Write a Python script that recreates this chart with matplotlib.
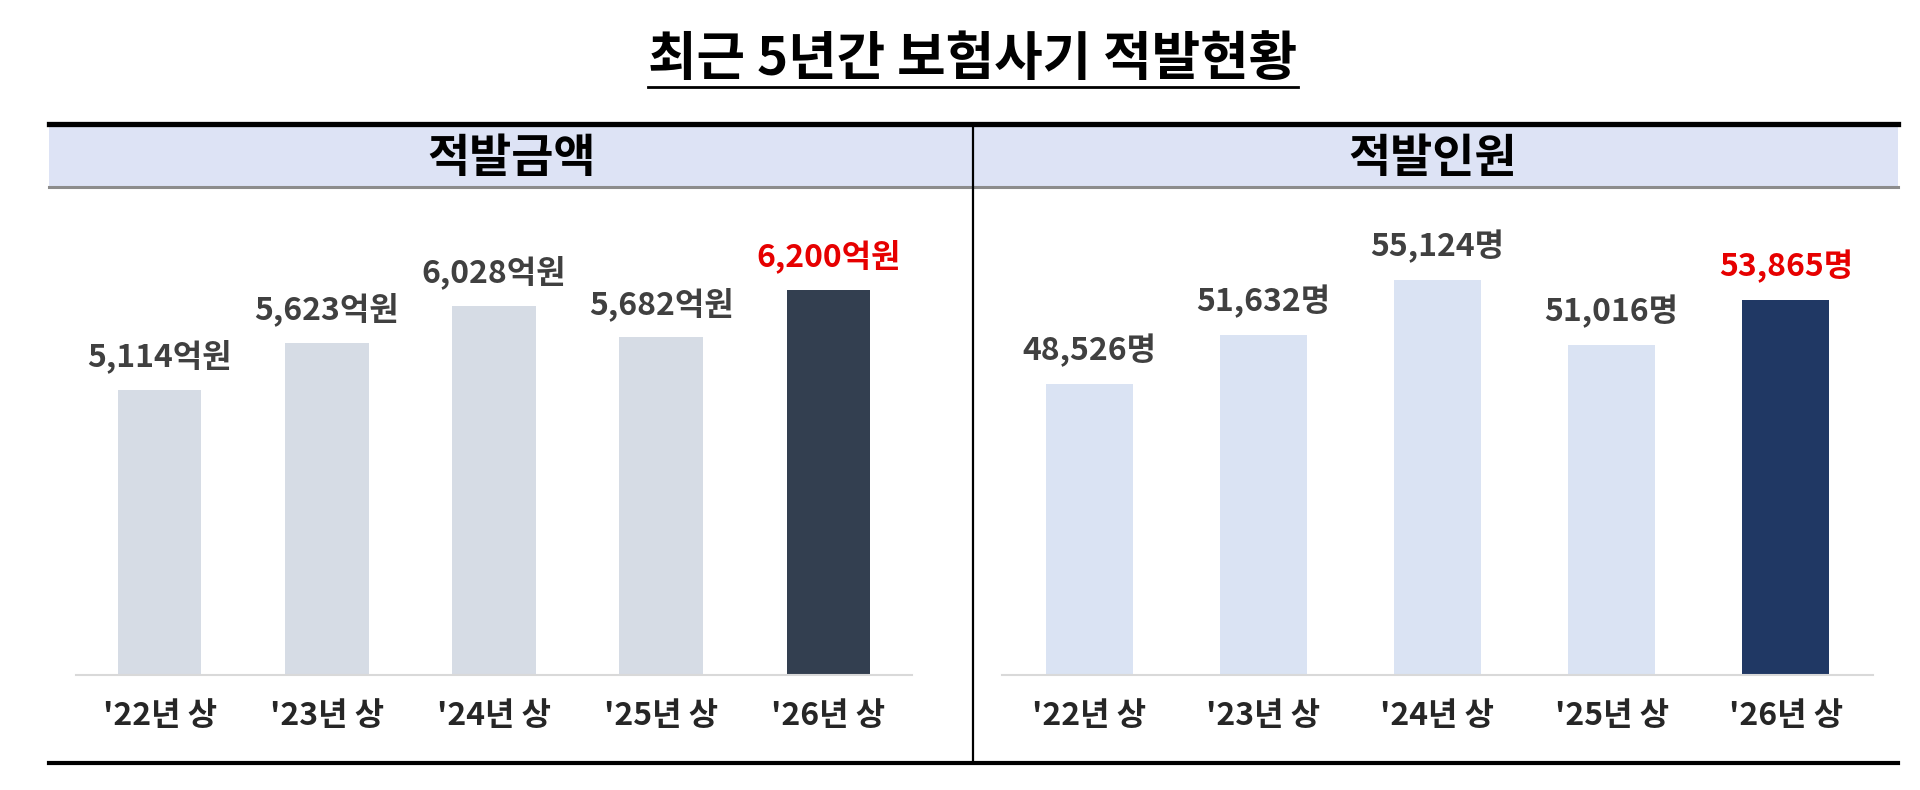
import matplotlib.pyplot as plt
from matplotlib.lines import Line2D
from matplotlib.patches import Rectangle

plt.rcParams['font.family'] = ['Noto Sans CJK KR', 'DejaVu Sans']

# ---- data ----
periods = ["'22년 상", "'23년 상", "'24년 상", "'25년 상", "'26년 상"]
amount = [5114, 5623, 6028, 5682, 6200]        # 억원
people = [48526, 51632, 55124, 51016, 53865]   # 명

title = "최근 5년간 보험사기 적발현황"
panel_titles = ["적발금액", "적발인원"]

W, H = 1920, 790


def fx(px):
    return px / W


def fy(py):
    return 1 - py / H


fig = plt.figure(figsize=(19.2, 7.9), dpi=100)
fig.patch.set_facecolor('white')

# title with underline
t = fig.text(fx(973), fy(60), title, ha='center', va='center',
             fontsize=38, fontweight='bold', color='black')
fig.canvas.draw()
bb = t.get_window_extent()
fig.add_artist(Line2D([bb.x0 / W, bb.x1 / W], [fy(87), fy(87)],
                      transform=fig.transFigure, color='black', lw=2))

# header band
fig.add_artist(Rectangle((fx(49), fy(187)), fx(1898) - fx(49), fy(126) - fy(187),
                         transform=fig.transFigure, facecolor='#DDE3F5',
                         edgecolor='none', zorder=0))
fig.add_artist(Line2D([fx(49), fx(1898)], [fy(124), fy(124)],
                      transform=fig.transFigure, color='black', lw=3.8))
fig.add_artist(Line2D([fx(49), fx(1898)], [fy(187), fy(187)],
                      transform=fig.transFigure, color='#8C8C8C', lw=2.2))
fig.add_artist(Line2D([fx(49), fx(1898)], [fy(763), fy(763)],
                      transform=fig.transFigure, color='black', lw=3.0))
fig.add_artist(Line2D([fx(973), fx(973)], [fy(124), fy(763)],
                      transform=fig.transFigure, color='black', lw=1.6))

fig.text(fx(512), fy(159), panel_titles[0], ha='center', va='center',
         fontsize=33, fontweight='bold', color='black')
fig.text(fx(1433), fy(159), panel_titles[1], ha='center', va='center',
         fontsize=33, fontweight='bold', color='black')


def panel(rect, values, ylo, yhi, light, dark, unit):
    ax = fig.add_axes(rect)
    x = range(len(values))
    colors = [light] * (len(values) - 1) + [dark]
    ax.bar(x, [v - ylo for v in values], bottom=ylo, width=0.5, color=colors)
    ax.set_xlim(-0.5, len(values) - 0.5)
    ax.set_ylim(ylo, yhi)
    for s in ['top', 'left', 'right']:
        ax.spines[s].set_visible(False)
    ax.spines['bottom'].set_color('#D9D9D9')
    ax.spines['bottom'].set_linewidth(1.5)
    ax.set_yticks([])
    ax.set_xticks(list(x))
    ax.set_xticklabels(periods, fontsize=23, fontweight='bold', color='#262626')
    ax.tick_params(axis='x', length=0, pad=18)
    ax.patch.set_alpha(0)
    for i, v in enumerate(values):
        c = '#E60000' if i == len(values) - 1 else '#404040'
        ax.annotate(f"{v:,}{unit}", (i, v), xytext=(0, 24), textcoords='offset points',
                    ha='center', va='center', fontsize=23, fontweight='bold', color=c)
    return ax


panel([fx(76), fy(675), fx(912) - fx(76), fy(190) - fy(675)],
      amount, 2000, 7290, '#D6DCE5', '#333F50', '억원')
panel([fx(1002), fy(675), fx(1873) - fx(1002), fy(190) - fy(675)],
      people, 30000, 60850, '#DAE3F3', '#203864', '명')

fig.savefig('out.png', dpi=100)
